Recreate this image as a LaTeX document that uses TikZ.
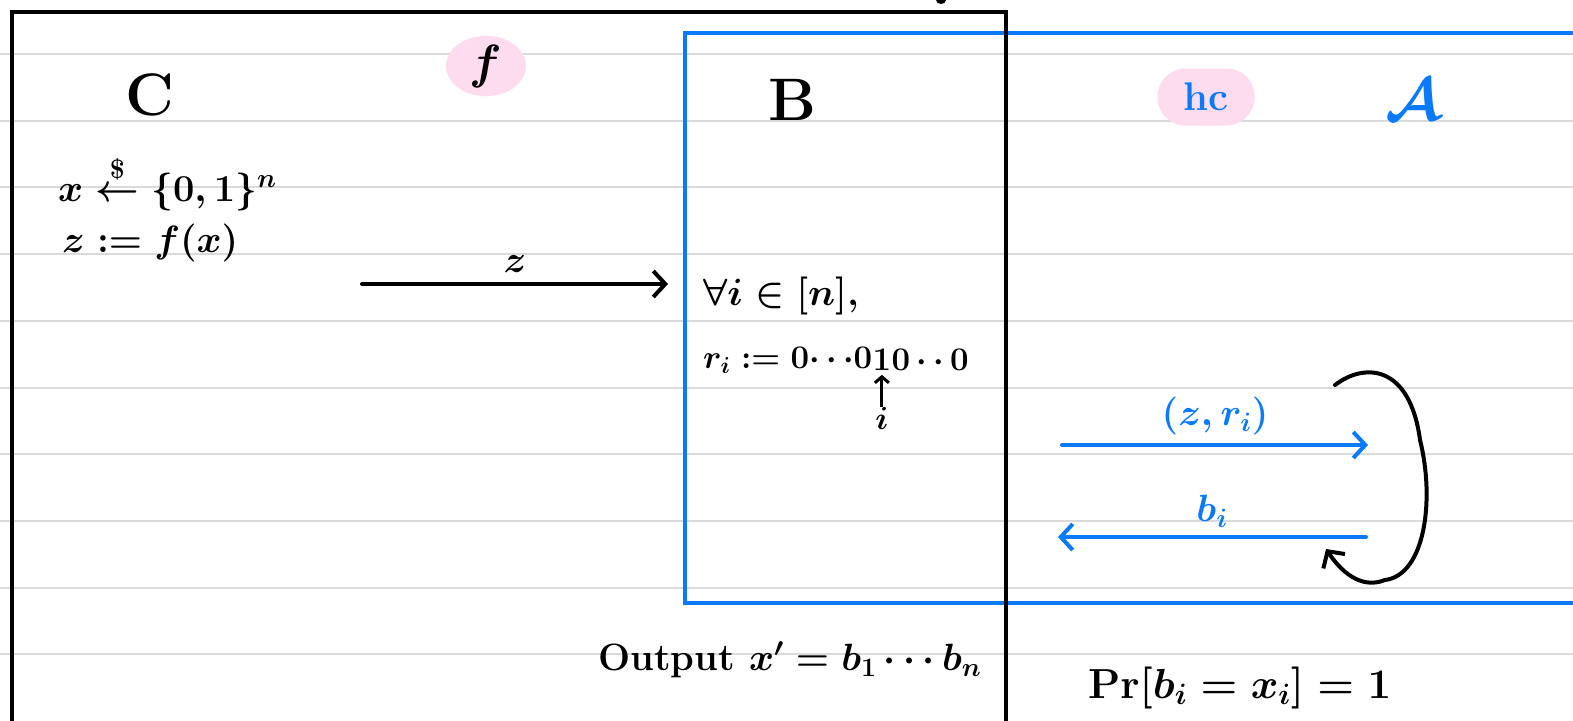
\documentclass[tikz,border=0pt]{standalone}
\usepackage{amsmath}
\DeclareFontShape{OML}{cmm}{m}{it}{<-6>cmmi5<6-7>cmmi6<7-8>cmmi7<8-9>cmmi8<9-10>cmmi9<10-12>cmmi10<12->cmmi12}{}
\DeclareFontShape{OML}{cmm}{b}{it}{<->cmmib10}{}
\DeclareFontShape{OMS}{cmsy}{m}{n}{<-6>cmsy5<6-7>cmsy6<7-8>cmsy7<8-9>cmsy8<9-10>cmsy9<10->cmsy10}{}
\DeclareFontShape{OMS}{cmsy}{b}{n}{<->cmbsy10}{}
\DeclareFontShape{OMX}{cmex}{m}{n}{<->cmex10}{}
\DeclareFontShape{OT1}{cmr}{m}{n}{<-6>cmr5<6-7>cmr6<7-8>cmr7<8-9>cmr8<9-10>cmr9<10-12>cmr10<12-17>cmr12<17->cmr17}{}
\DeclareFontShape{OT1}{cmr}{bx}{n}{<-12>cmbx10<12->cmbx12}{}
\usetikzlibrary{arrows.meta,shapes.geometric,positioning}
\definecolor{ablue}{RGB}{10,122,250}
\definecolor{pinkhl}{RGB}{252,220,238}
\definecolor{rulegray}{RGB}{218,218,218}
\begin{document}
\begin{tikzpicture}[x=1pt,y=-1pt,
  hw/.style={font=\fontsize{38}{44}\selectfont\bfseries\boldmath, inner sep=0pt},
  big/.style={font=\fontsize{60}{66}\selectfont\bfseries\boldmath, inner sep=0pt},
  frame/.style={line width=4pt},
  arr/.style={line width=4pt, line cap=round, -{Straight Barb[length=12pt,width=26pt,line width=4pt]}},
  hl/.style={fill=pinkhl, draw=none}
]
\useasboundingbox[fill=white] (0,0) rectangle (1573,720);
% ruled paper
\foreach \k in {0,...,9}
  \draw[rulegray, line width=2pt] (0,{54+66.7*\k}) -- (1573,{54+66.7*\k});
% blue box (A)
\draw[ablue, frame] (1590,33) -- (685,33) -- (685,603) -- (1590,603);
% black box (B)
\draw[black, frame] (12,740) -- (12,12) -- (1006,12) -- (1006,740);
\fill (941,0) ellipse (5pt and 4pt);

% headings
\node[big] (C) at (150,95) {C};
\node[hl, ellipse, minimum width=80pt, minimum height=58pt, font=\fontsize{48}{54}\selectfont\boldmath, inner sep=0pt] (f) at (486,66) {$f$};
\node[big] (B) at (792,100) {B};
\node[hl, rounded corners=28pt, minimum width=97pt, minimum height=57pt, text=ablue, font=\fontsize{40}{46}\selectfont\bfseries, inner sep=0pt] (hc) at (1206,97) {hc};
\node[big, text=ablue] (A) at (1413,100) {$\mathcal{A}$};

% challenger
\node[hw, anchor=west] (samp) at (58,183) {$x \overset{\$}{\leftarrow} \{0,1\}^n$};
\node[hw, anchor=west] (zdef) at (62,243) {$z := f(x)$};
\coordinate (z0) at (362,284);
\coordinate (z1) at (668,284);
\draw[arr] (z0) -- node[hw, above=10pt] (zl) {$z$} (z1);

% reduction B
\node[hw, anchor=west] (forall) at (703,296) {$\forall i\in[n]$,};
\tikzset{rline/.style={hw, font=\fontsize{33}{40}\selectfont\bfseries\boldmath}}
\node[rline, anchor=west] (ri) at (703,360) {$r_i := 0\!\cdots\!0$};
\node[rline, anchor=west] (one) at (ri.east) {$1$};
\node[rline, anchor=west] (rest) at (one.east) {$0\,\mathord{\cdot}\,\mathord{\cdot}\,0$};
\node[hw, font=\fontsize{32}{38}\selectfont\boldmath] (ilab) at ([yshift=-58pt]one.center) {$i$};
\draw[line width=3pt, -{Straight Barb[length=6pt,width=14pt,line width=3pt]}] (ilab.north) -- ([yshift=-4pt]one.south);

% messages with A
\coordinate (q0) at (1062,445);
\coordinate (q1) at (1368,445);
\draw[arr, ablue] (q0) -- node[hw, above=8pt, text=ablue] (ql) {$(z, r_i)$} (q1);
\coordinate (b0) at (1366,537);
\coordinate (b1) at (1058,537);
\draw[arr, ablue] (b0) -- node[hw, above=8pt, text=ablue] (bl) {$b_i$} (b1);

% repeat loop
\coordinate (l0) at (1335,385);
\coordinate (l1) at (1420,440);
\coordinate (l2) at (1385,580);
\coordinate (l3) at (1326,549);
\draw[arr] (l0) .. controls (1365,362) and (1410,365) .. (l1)
  .. controls (1435,500) and (1425,575) .. (l2)
  .. controls (1360,590) and (1340,570) .. (l3);

% results
\node[hw, anchor=west] (out) at (598,660) {Output $x' = b_1\cdots b_n$};
\node[hw, anchor=west, font=\fontsize{42}{48}\selectfont\bfseries\boldmath] (pr) at (1088,688) {$\Pr[b_i = x_i] = 1$};
\end{tikzpicture}
\end{document}
